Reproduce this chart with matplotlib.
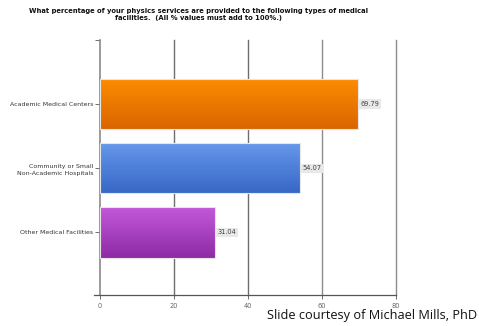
import numpy as np
import matplotlib
matplotlib.use("Agg")
import matplotlib.pyplot as plt
from matplotlib.colors import LinearSegmentedColormap

# survey answers, top to bottom
categories = ["Academic Medical Centers",
              "Community or Small\nNon-Academic Hospitals",
              "Other Medical Facilities"]
values = [69.79, 54.07, 31.04]
value_labels = ["69.79", "54.07", "31.04"]
x_ticks = [0, 20, 40, 60, 80]

# gradient colours per bar (top, bottom)
grad_colors = [("#FF8C00", "#D96500"),
               ("#6698EC", "#3868C6"),
               ("#C258DA", "#8E2BA4")]

title = ("What percentage of your physics services are provided to the following types of medical\n"
         "facilities.  (All % values must add to 100%.)")

fig = plt.figure(figsize=(4.79, 3.26), dpi=100)
ax = fig.add_axes([0.2088, 0.0951, 0.6179, 0.7819])

pos = np.arange(len(categories))
bars = ax.barh(pos, values, height=0.79, color="none",
               edgecolor="#E6E6E6", linewidth=0.8, zorder=3)

# fill each bar with a vertical gradient clipped to the bar
for bar, (c_top, c_bot) in zip(bars, grad_colors):
    cmap = LinearSegmentedColormap.from_list("g", [c_top, c_bot])
    x0, y0 = bar.get_x(), bar.get_y()
    w, h = bar.get_width(), bar.get_height()
    grad = np.linspace(0, 1, 64).reshape(-1, 1)
    im = ax.imshow(grad, cmap=cmap, aspect="auto",
                   extent=(x0, x0 + w, y0 + h, y0), zorder=2,
                   interpolation="bilinear")
    im.set_clip_path(bar)

ax.set_xlim(0, 80)
ax.set_ylim(2.98, -1.0)

for p, v, lab in zip(pos, values, value_labels):
    ax.text(v + 0.6, p, lab, fontsize=4.8, color="#444444",
            va="center", ha="left", zorder=4,
            bbox=dict(boxstyle="square,pad=0.25", fc="#E8E8E8", ec="none"))

# grid and axes
grid_cols = ["#6E6E6E", "#6E6E6E", "#8C8C8C", "#8C8C8C"]
for x, c in zip(x_ticks[1:], grid_cols):
    ax.axvline(x, color=c, linewidth=1.0, zorder=1, clip_on=False)

for s in ["top", "right"]:
    ax.spines[s].set_visible(False)
ax.spines["left"].set_color("#8A8A8A")
ax.spines["left"].set_linewidth(1.2)
ax.spines["bottom"].set_color("#555555")
ax.spines["bottom"].set_linewidth(0.9)
ax.spines["bottom"].set_bounds(-1.5, 80)

ax.set_xticks(x_ticks)
ax.set_xticklabels([str(t) for t in x_ticks], fontsize=4.8, color="#666666")
ax.tick_params(axis="x", length=3, width=0.6, color="#555555", pad=3)

ax.set_yticks(list(pos) + [-1.0])
ax.set_yticklabels(categories + [""], fontsize=4.5, color="#333333",
                   multialignment="right", linespacing=1.5)
ax.tick_params(axis="y", length=3.5, width=0.6, color="#555555", pad=1.5)

fig.text(0.415, 0.975, title, fontsize=4.9, fontweight="bold",
         ha="center", va="top", multialignment="center", color="#111111")

fig.text(0.997, 0.012, "Slide courtesy of Michael Mills, PhD", fontsize=9.2,
         family=["Open Sans", "DejaVu Sans"], ha="right", va="bottom",
         color="#111111")

fig.savefig("out.png", dpi=100)
